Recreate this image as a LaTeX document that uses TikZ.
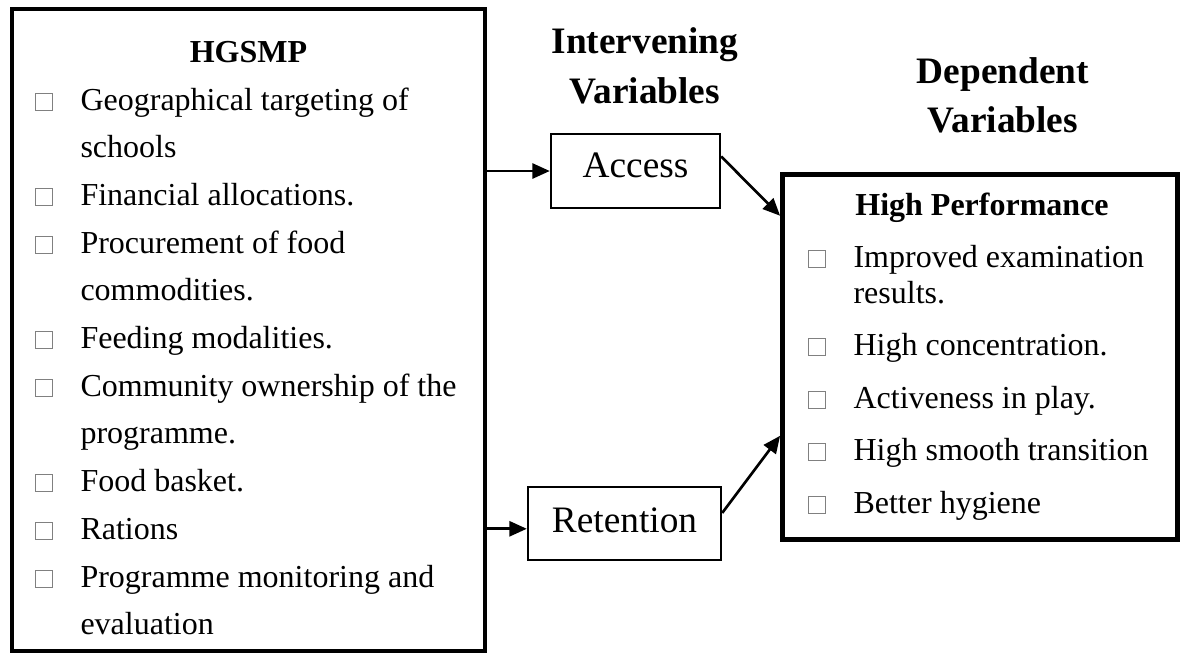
\documentclass[tikz,border=0pt]{standalone}
\usepackage{fontspec}
\setmainfont{Liberation Serif}
\usetikzlibrary{arrows.meta,calc,fit}
\begin{document}
\begin{tikzpicture}[x=0.375pt,y=-0.375pt,
  bigbox/.style={draw,line width=1.8pt,inner sep=0pt},
  smallbox/.style={draw,line width=0.9pt,inner sep=0pt},
  body/.style={font=\fontsize{12}{14}\selectfont,inner sep=0pt,anchor=base west},
  boldtitle/.style={font=\fontsize{12}{14}\selectfont\bfseries,inner sep=0pt,anchor=base},
  head/.style={font=\fontsize{14}{16}\selectfont\bfseries,inner sep=0pt,anchor=base},
  varlabel/.style={font=\fontsize{14}{16}\selectfont,inner sep=0pt,anchor=base},
  bul/.style={draw=black!50,line width=0.35pt,fill=white},
  arr/.style={line width=1pt,-{Triangle[length=6.5pt,width=5.6pt]}}
]
\useasboundingbox (0,0) rectangle (1182,655);

% boxes
\node[bigbox,fit={(12,9) (485,651)}] (left) {};
\node[bigbox,fit={(782.5,174.5) (1177.5,539.5)}] (right) {};
\node[smallbox,fit={(551,134) (720,208)}] (access) {};
\node[smallbox,fit={(528,487) (721,560)}] (retention) {};

% headers
\node[head] (h1a) at (645,53) {Intervening};
\node[head] (h1b) at (645,103) {Variables};
\node[head] (h2a) at (1003,83) {Dependent};
\node[head] (h2b) at (1003,132) {Variables};

% box labels
\node[varlabel] (accesstxt) at (635.5,177) {Access};
\node[varlabel] (retentiontxt) at (624.5,532) {Retention};

% left box content
\node[boldtitle] (hgsmp) at (248.5,62) {HGSMP};
\foreach \yy/\bb/\tt [count=\i] in {
  110/1/Geographical targeting of,
  157.7/0/schools,
  205.4/1/Financial allocations.,
  253.1/1/Procurement of food,
  300.8/0/commodities.,
  348.5/1/Feeding modalities.,
  396.2/1/Community ownership of the,
  443.9/0/programme.,
  491.6/1/Food basket.,
  539.3/1/Rations,
  587/1/Programme monitoring and,
  634.7/0/evaluation}{
  \node[body] (l\i) at (80,\yy) {\tt};
  \ifnum\bb=1 \draw[bul] (35,\yy) rectangle (52,{\yy-17}); \fi
}

% right box content
\node[boldtitle] (hp) at (982,215) {High Performance};
\foreach \yy/\bb/\tt [count=\i] in {
  267/1/Improved examination,
  303/0/results.,
  355/1/High concentration.,
  408/1/Activeness in play.,
  460/1/High smooth transition,
  513/1/Better hygiene}{
  \node[body] (r\i) at (853,\yy) {\tt};
  \ifnum\bb=1 \draw[bul] (808,\yy) rectangle (825,{\yy-17}); \fi
}

% connectors
\coordinate (ain) at (access.west);
\coordinate (rin) at ($(retention.north west)!0.57!(retention.south west)$);
\coordinate (aout) at ($(access.north east)!0.31!(access.south east)$);
\coordinate (rout) at ($(retention.north east)!0.36!(retention.south east)$);
\coordinate (tin1) at ($(right.north west)!0.118!(right.south west)$);
\coordinate (tin2) at ($(right.north west)!0.713!(right.south west)$);

\draw[arr] (left.east |- ain) -- (access.west);
\draw[arr] (left.east |- rin) -- (rin);
\draw[arr] (aout) -- (tin1);
\draw[arr] (rout) -- (tin2);
\end{tikzpicture}
\end{document}
